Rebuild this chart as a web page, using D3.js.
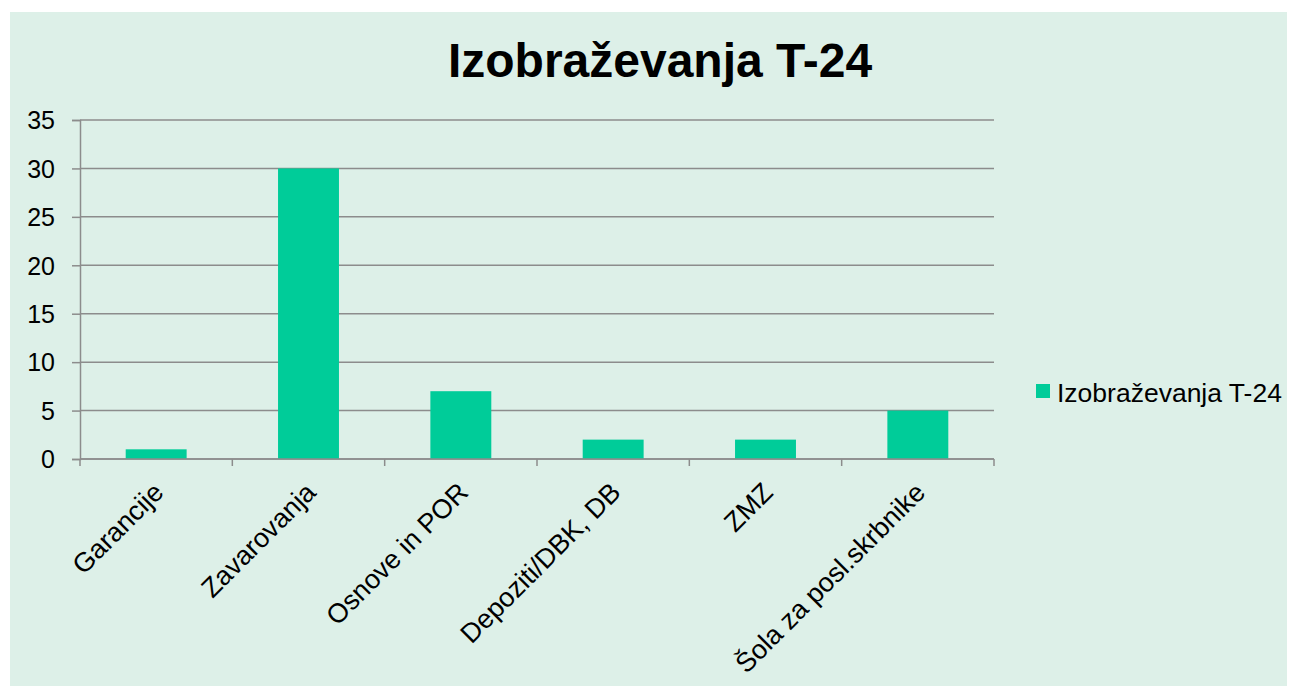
<!DOCTYPE html>
<html>
<head>
<meta charset="utf-8">
<script src="https://cdn.jsdelivr.net/npm/d3@7"></script>
<style>
  body { margin: 0; background: #fff; }
  text { font-family: "Liberation Sans", Arial, sans-serif; fill: #000; }
</style>
</head>
<body>
<div id="chart"></div>
<script>
const categories = ['Garancije', 'Zavarovanja', 'Osnove in POR', 'Depoziti/DBK, DB', 'ZMZ', 'Šola za posl.skrbnike'];
const values = [1, 30, 7, 2, 2, 5];
const yTicks = [0, 5, 10, 15, 20, 25, 30, 35];
const seriesName = 'Izobraževanja T-24';
const chartTitle = 'Izobraževanja T-24';

const width = 1290, height = 687;
const plot = {left: 80, right: 994, top: 120, bottom: 459};
const barColour = '#00CC99';
const gridColour = '#8c8c8c';

const svg = d3.select('#chart').append('svg')
  .attr('width', width)
  .attr('height', height);

// panel background
svg.append('rect')
  .attr('x', 10).attr('y', 12)
  .attr('width', 1277).attr('height', 674)
  .attr('fill', '#ddf0e8');

// scales
const x = d3.scaleBand()
  .domain(categories)
  .range([plot.left, plot.right])
  .paddingInner(0.6)
  .paddingOuter(0.3);
const y = d3.scaleLinear()
  .domain([0, 35])
  .range([plot.bottom, plot.top]);

// gridlines
svg.append('g')
  .selectAll('line')
  .data(yTicks)
  .enter().append('line')
    .attr('x1', plot.left).attr('x2', plot.right)
    .attr('y1', d => y(d)).attr('y2', d => y(d))
    .attr('stroke', gridColour)
    .attr('stroke-width', 1.5);

// y axis
const yAxis = svg.append('g')
  .attr('transform', `translate(${plot.left},0)`)
  .call(d3.axisLeft(y).tickValues(yTicks).tickSize(8).tickPadding(17));
yAxis.select('.domain').attr('stroke', gridColour).attr('stroke-width', 1.5);
yAxis.selectAll('.tick line').attr('stroke', gridColour).attr('stroke-width', 1.5);
yAxis.selectAll('.tick text')
  .attr('font-size', 25)
  .attr('dy', '0.35em')
  .attr('font-family', '"Liberation Sans", Arial, sans-serif')
  .attr('fill', '#000');

// bars
svg.append('g')
  .selectAll('rect')
  .data(values)
  .enter().append('rect')
    .attr('x', (d, i) => x(categories[i]))
    .attr('y', d => y(d))
    .attr('width', x.bandwidth())
    .attr('height', d => y(0) - y(d))
    .attr('fill', barColour);

// x axis (ticks at category boundaries)
const step = (plot.right - plot.left) / categories.length;
const xAxis = svg.append('g');
xAxis.append('line')
  .attr('x1', plot.left).attr('x2', plot.right)
  .attr('y1', plot.bottom).attr('y2', plot.bottom)
  .attr('stroke', gridColour).attr('stroke-width', 1.5);
xAxis.selectAll('.xtick')
  .data(d3.range(categories.length + 1))
  .enter().append('line')
    .attr('x1', i => plot.left + i * step).attr('x2', i => plot.left + i * step)
    .attr('y1', plot.bottom).attr('y2', plot.bottom + 7)
    .attr('stroke', gridColour).attr('stroke-width', 1.5);

xAxis.selectAll('.xlabel')
  .data(categories)
  .enter().append('text')
    .attr('transform', d => `translate(${x(d) + x.bandwidth() / 2 + 9},${plot.bottom + 35}) rotate(-45)`)
    .attr('text-anchor', 'end')
    .attr('font-size', 27)
    .text(d => d);

// title
svg.append('text')
  .attr('x', 660).attr('y', 77)
  .attr('text-anchor', 'middle')
  .attr('font-size', 48)
  .attr('font-weight', 'bold')
  .text(chartTitle);

// legend
const legend = svg.append('g').attr('transform', 'translate(1036,384)');
legend.append('rect')
  .attr('width', 14).attr('height', 14)
  .attr('fill', barColour);
legend.append('text')
  .attr('x', 21).attr('y', 17.5)
  .attr('font-size', 26.5)
  .text(seriesName);
</script>
</body>
</html>
